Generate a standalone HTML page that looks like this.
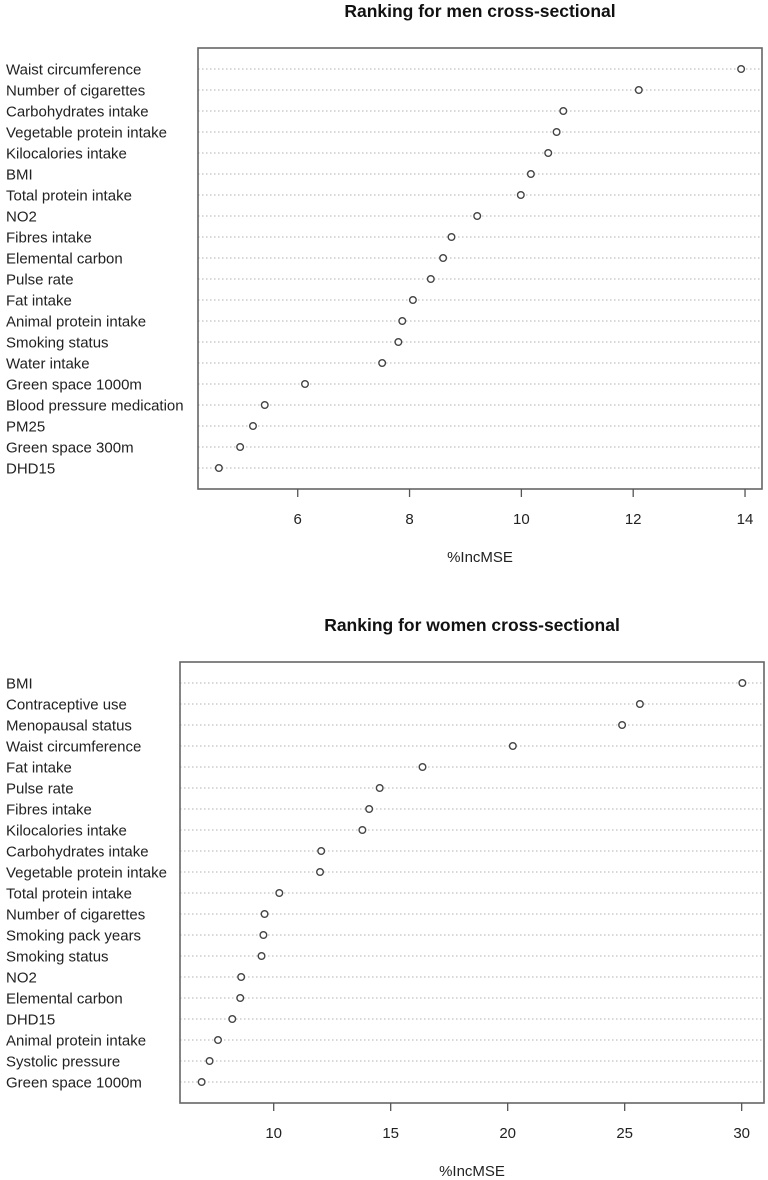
<!DOCTYPE html>
<html><head><meta charset="utf-8">
<style>
html,body{margin:0;padding:0;background:#fff;}
svg{display:block;font-family:"Liberation Sans",Arial,sans-serif;}
</style></head>
<body>
<svg id="chart" width="768" height="1180" viewBox="0 0 768 1180" xmlns="http://www.w3.org/2000/svg"></svg>
<script>
const menLabels = ["Waist circumference","Number of cigarettes","Carbohydrates intake","Vegetable protein intake","Kilocalories intake","BMI","Total protein intake","NO2","Fibres intake","Elemental carbon","Pulse rate","Fat intake","Animal protein intake","Smoking status","Water intake","Green space 1000m","Blood pressure medication","PM25","Green space 300m","DHD15"];
const menValues = [13.93,12.10,10.75,10.63,10.48,10.17,9.99,9.21,8.75,8.60,8.38,8.06,7.87,7.80,7.51,6.13,5.41,5.20,4.97,4.59];
const menTicks = [6,8,10,12,14];
const womenLabels = ["BMI","Contraceptive use","Menopausal status","Waist circumference","Fat intake","Pulse rate","Fibres intake","Kilocalories intake","Carbohydrates intake","Vegetable protein intake","Total protein intake","Number of cigarettes","Smoking pack years","Smoking status","NO2","Elemental carbon","DHD15","Animal protein intake","Systolic pressure","Green space 1000m"];
const womenValues = [30.03,25.65,24.89,20.22,16.36,14.53,14.08,13.79,12.03,11.98,10.24,9.61,9.56,9.48,8.61,8.57,8.23,7.62,7.26,6.92];
const womenTicks = [10,15,20,25,30];

const NS="http://www.w3.org/2000/svg";
const svg=document.getElementById('chart');
function mk(tag,attrs,parent){const e=document.createElementNS(NS,tag);for(const k in attrs)e.setAttribute(k,attrs[k]);(parent||svg).appendChild(e);return e;}

function drawPanel(cfg){
  const g=mk('g',{});
  
  
  const vals=cfg.values;
  const mn=Math.min(...vals), mx=Math.max(...vals), sp=mx-mn;
  const d0=mn-0.04*sp, d1=mx+0.04*sp;
  const L=cfg.left,R=cfg.right,T=cfg.top,B=cfg.bottom;
  const xs=v=>L+(v-d0)/(d1-d0)*(R-L);
  const n=vals.length;
  const ys=i=>cfg.row0+i*(cfg.rowN-cfg.row0)/(n-1);
  const title=mk('text',{x:(L+R)/2,y:T-31,'text-anchor':'middle','font-size':'17.5','font-weight':'bold',fill:'#111'},g);
  title.textContent=cfg.title;
  
  
  for(let i=0;i<n;i++){
    const y=ys(i);
    const gl=mk('line',{x1:L,x2:R,y1:y,y2:y,stroke:'#b0b0b0','stroke-width':'1','stroke-dasharray':'1.5,2.5'},g);
    
    
    const lb=mk('text',{x:6,y:y+5.5,'font-size':'15',fill:'#222'},g);
    lb.textContent=cfg.labels[i];
    
    
    const c=mk('circle',{cx:xs(vals[i]),cy:y,r:3.3,fill:'#fff',stroke:'#444','stroke-width':'1.4'},g);
    
    
  }
  const box=mk('rect',{x:L,y:T,width:R-L,height:B-T,fill:'none',stroke:'#666','stroke-width':'1.6'},g);
  
  
  cfg.ticks.forEach(t=>{
    const x=xs(t);
    const tk=mk('line',{x1:x,x2:x,y1:B,y2:B+8,stroke:'#555','stroke-width':'1.3'},g);
    
    
    const tl=mk('text',{x:x,y:B+35,'text-anchor':'middle','font-size':'15',fill:'#222'},g);
    tl.textContent=t;
    
    
  });
  const xt=mk('text',{x:(L+R)/2,y:B+73,'text-anchor':'middle','font-size':'15',fill:'#222'},g);
  xt.textContent='%IncMSE';
  
  
}
drawPanel({name:'men-panel',title:'Ranking for men cross-sectional',labels:menLabels,values:menValues,ticks:menTicks,left:198,right:762,top:48,bottom:489,row0:69,rowN:468});
drawPanel({name:'women-panel',title:'Ranking for women cross-sectional',labels:womenLabels,values:womenValues,ticks:womenTicks,left:180,right:764,top:662,bottom:1103,row0:683,rowN:1082});
</script>
</body></html>
